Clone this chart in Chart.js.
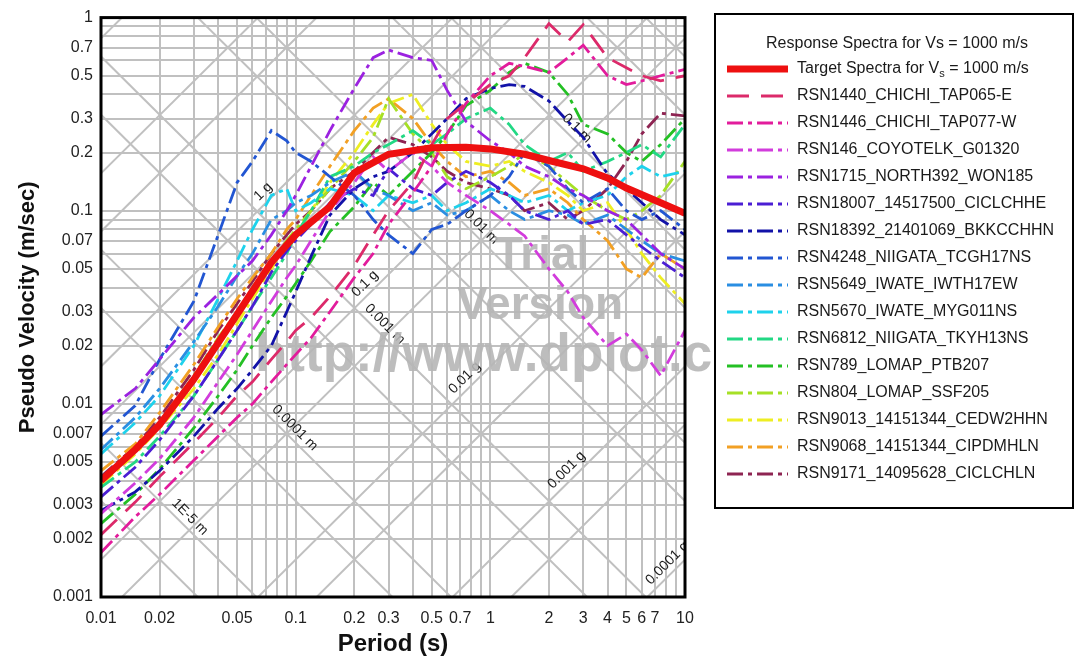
<!DOCTYPE html>
<html>
<head>
<meta charset="utf-8">
<script src="https://cdn.jsdelivr.net/npm/chart.js@4.4.0/dist/chart.umd.min.js"></script>
<style>
  html, body { margin: 0; padding: 0; background: #fff; }
  #wrap { width: 1074px; height: 662px; }
</style>
</head>
<body>
<div id="wrap"><canvas id="spectra" width="1074" height="662"></canvas></div>
<script>
// Pseudo-velocity response spectra, tripartite plot (damping grid for D and A)

const periods = [0.01, 0.015, 0.02, 0.03, 0.04, 0.05, 0.06, 0.075, 0.09, 0.1, 0.12, 0.15, 0.2, 0.25, 0.3,
                 0.4, 0.5, 0.6, 0.75, 1, 1.25, 1.5, 2, 2.5, 3, 4, 5, 6, 7.5, 10];

const targetPeriods = [0.01, 0.015, 0.02, 0.03, 0.05, 0.075, 0.1, 0.15, 0.2, 0.3, 0.5, 0.75, 1, 1.5, 2, 3, 4, 5, 7.5, 10];
const targetPSV = [0.004, 0.0058, 0.0078, 0.0134, 0.029, 0.054, 0.075, 0.105, 0.157, 0.196, 0.212, 0.213, 0.209, 0.196, 0.182, 0.165, 0.148, 0.131, 0.11, 0.097];

const recordNames = [
  'RSN1440_CHICHI_TAP065-E', 'RSN1446_CHICHI_TAP077-W', 'RSN146_COYOTELK_G01320', 'RSN1715_NORTH392_WON185',
  'RSN18007_14517500_CICLCHHE', 'RSN18392_21401069_BKKCCHHN', 'RSN4248_NIIGATA_TCGH17NS', 'RSN5649_IWATE_IWTH17EW',
  'RSN5670_IWATE_MYG011NS', 'RSN6812_NIIGATA_TKYH13NS', 'RSN789_LOMAP_PTB207', 'RSN804_LOMAP_SSF205',
  'RSN9013_14151344_CEDW2HHN', 'RSN9068_14151344_CIPDMHLN', 'RSN9171_14095628_CICLCHLN'
];

const recordColors = ['#dc2a6a', '#e21c9c', '#d23cdc', '#9b22e0', '#4b1ed4', '#1212a8', '#2256d2', '#2a8ee2',
                      '#1ed2ec', '#22d884', '#24c024', '#a6e026', '#eeee22', '#f2a024', '#8e2452'];

const psv1440  = [0.0021, 0.0031, 0.0042, 0.0063, 0.0085, 0.011, 0.013, 0.017, 0.021, 0.024, 0.028, 0.036, 0.052, 0.075, 0.1, 0.14, 0.22, 0.3, 0.36, 0.45, 0.5, 0.62, 0.93, 0.75, 0.92, 0.62, 0.55, 0.5, 0.47, 0.5];
const psv1446  = [0.0017, 0.0026, 0.0034, 0.0051, 0.0068, 0.0085, 0.01, 0.013, 0.016, 0.018, 0.022, 0.03, 0.045, 0.06, 0.085, 0.124, 0.17, 0.25, 0.36, 0.5, 0.58, 0.56, 0.52, 0.62, 0.72, 0.5, 0.45, 0.47, 0.5, 0.54];
const psv146   = [0.0027, 0.0039, 0.0052, 0.0085, 0.013, 0.018, 0.024, 0.034, 0.045, 0.052, 0.07, 0.1, 0.14, 0.19, 0.16, 0.2, 0.17, 0.14, 0.12, 0.1, 0.085, 0.074, 0.05, 0.038, 0.028, 0.02, 0.023, 0.019, 0.014, 0.024];
const psv1715  = [0.0088, 0.012, 0.017, 0.028, 0.037, 0.046, 0.055, 0.075, 0.1, 0.12, 0.17, 0.26, 0.43, 0.62, 0.68, 0.62, 0.6, 0.42, 0.29, 0.23, 0.2, 0.17, 0.15, 0.13, 0.12, 0.1, 0.09, 0.075, 0.06, 0.05];
const psv18007 = [0.0033, 0.0047, 0.0065, 0.011, 0.017, 0.024, 0.032, 0.048, 0.062, 0.07, 0.085, 0.11, 0.13, 0.12, 0.165, 0.13, 0.12, 0.14, 0.16, 0.14, 0.12, 0.1, 0.09, 0.1, 0.085, 0.09, 0.075, 0.065, 0.055, 0.045];
const psv18392 = [0.0028, 0.0035, 0.0045, 0.0068, 0.0095, 0.012, 0.015, 0.02, 0.03, 0.038, 0.058, 0.095, 0.13, 0.15, 0.16, 0.2, 0.25, 0.3, 0.38, 0.43, 0.45, 0.44, 0.37, 0.29, 0.24, 0.155, 0.13, 0.11, 0.09, 0.075];
const psv4248  = [0.0068, 0.0098, 0.017, 0.034, 0.075, 0.14, 0.18, 0.26, 0.23, 0.2, 0.18, 0.15, 0.12, 0.09, 0.075, 0.06, 0.08, 0.085, 0.1, 0.12, 0.15, 0.2, 0.17, 0.13, 0.11, 0.13, 0.1, 0.09, 0.1, 0.08];
const psv5649  = [0.0058, 0.0085, 0.012, 0.021, 0.032, 0.046, 0.06, 0.09, 0.1, 0.11, 0.12, 0.14, 0.16, 0.13, 0.12, 0.1, 0.11, 0.095, 0.1, 0.12, 0.1, 0.09, 0.1, 0.095, 0.085, 0.095, 0.08, 0.07, 0.06, 0.055];
const psv5670  = [0.0055, 0.008, 0.011, 0.02, 0.035, 0.055, 0.08, 0.12, 0.13, 0.1, 0.11, 0.13, 0.12, 0.1, 0.12, 0.11, 0.12, 0.1, 0.11, 0.13, 0.12, 0.11, 0.12, 0.1, 0.11, 0.12, 0.15, 0.17, 0.15, 0.16];
const psv6812  = [0.0037, 0.005, 0.0068, 0.011, 0.017, 0.024, 0.032, 0.045, 0.06, 0.075, 0.1, 0.15, 0.17, 0.2, 0.22, 0.26, 0.22, 0.25, 0.3, 0.34, 0.28, 0.22, 0.18, 0.2, 0.16, 0.18, 0.2, 0.22, 0.19, 0.28];
const psv789   = [0.0024, 0.0034, 0.0046, 0.0075, 0.011, 0.015, 0.02, 0.028, 0.036, 0.042, 0.055, 0.078, 0.105, 0.14, 0.12, 0.16, 0.2, 0.25, 0.35, 0.42, 0.52, 0.58, 0.52, 0.4, 0.28, 0.25, 0.2, 0.18, 0.22, 0.3];
const psv804   = [0.004, 0.0058, 0.008, 0.014, 0.022, 0.03, 0.04, 0.055, 0.07, 0.08, 0.1, 0.13, 0.18, 0.24, 0.38, 0.25, 0.2, 0.15, 0.13, 0.15, 0.17, 0.2, 0.17, 0.14, 0.12, 0.1, 0.09, 0.1, 0.12, 0.18];
const psv9013  = [0.0038, 0.0055, 0.0075, 0.012, 0.018, 0.026, 0.035, 0.05, 0.065, 0.075, 0.1, 0.14, 0.2, 0.28, 0.36, 0.4, 0.28, 0.22, 0.18, 0.17, 0.18, 0.16, 0.14, 0.12, 0.1, 0.11, 0.08, 0.06, 0.045, 0.033];
const psv9068  = [0.0045, 0.0062, 0.009, 0.016, 0.025, 0.035, 0.045, 0.06, 0.08, 0.09, 0.12, 0.17, 0.26, 0.34, 0.38, 0.3, 0.22, 0.18, 0.15, 0.16, 0.14, 0.12, 0.13, 0.11, 0.09, 0.07, 0.05, 0.045, 0.06, 0.05];
const psv9171  = [0.0042, 0.006, 0.0085, 0.015, 0.024, 0.033, 0.043, 0.06, 0.075, 0.085, 0.1, 0.13, 0.16, 0.2, 0.24, 0.22, 0.19, 0.16, 0.14, 0.13, 0.12, 0.1, 0.11, 0.09, 0.1, 0.13, 0.18, 0.25, 0.32, 0.31];

const recordPSV = [psv1440, psv1446, psv146, psv1715, psv18007, psv18392, psv4248, psv5649,
                   psv5670, psv6812, psv789, psv804, psv9013, psv9068, psv9171];

const xTickLabels = ['0.01', '0.02', '0.05', '0.1', '0.2', '0.3', '0.5', '0.7', '1', '2', '3', '4', '5', '6', '7', '10'];
const yTickLabels = ['0.001', '0.002', '0.003', '0.005', '0.007', '0.01', '0.02', '0.03', '0.05', '0.07',
                     '0.1', '0.2', '0.3', '0.5', '0.7', '1'];

// diagonal grid labels: value, text, period where the label sits
const dispLabels = [[1e-5, '1E-5 m', 0.0286], [1e-4, '0.0001 m', 0.099], [1e-3, '0.001 m', 0.287],
                    [1e-2, '0.01 m', 0.9], [1e-1, '0.1 m', 2.78]];
const accLabels = [[1, '1 g', 0.068], [0.1, '0.1 g', 0.227], [0.01, '0.01 g', 0.74],
                   [0.001, '0.001 g', 2.46], [0.0001, '0.0001 g', 8.1]];

const FONT = 'Arial, "Liberation Sans", sans-serif';
const GRID = '#c0c0c0';
const G = 9.81;

// 1..9 x 10^n inside [min, max]
function logGrid(min, max) {
  const out = [];
  for (let e = Math.floor(Math.log10(min)); e <= Math.ceil(Math.log10(max)); e++) {
    for (let m = 1; m <= 9; m++) {
      const v = +(m * Math.pow(10, e)).toPrecision(6);
      if (v >= min * 0.999 && v <= max * 1.001) out.push(v);
    }
  }
  return out;
}

function labelFor(list, value) {
  const hit = list.find(s => Math.abs(parseFloat(s) - value) < value * 1e-6);
  return hit === undefined ? '' : hit;
}

const tripartiteGrid = {
  id: 'tripartiteGrid',
  beforeDatasetsDraw(chart) {
    const { ctx, chartArea: a, scales: { x, y } } = chart;
    const t0 = x.min, t1 = x.max;
    const seg = (v0, v1) => {
      ctx.beginPath();
      ctx.moveTo(x.getPixelForValue(t0), y.getPixelForValue(v0));
      ctx.lineTo(x.getPixelForValue(t1), y.getPixelForValue(v1));
      ctx.stroke();
    };
    ctx.save();
    ctx.beginPath();
    ctx.rect(a.left, a.top, a.right - a.left, a.bottom - a.top);
    ctx.clip();
    ctx.strokeStyle = GRID;
    ctx.lineWidth = 2;
    for (let e = -8; e <= 2; e++) {
      for (const m of [1, 5]) {
        const d = m * Math.pow(10, e);
        seg(2 * Math.PI * d / t0, 2 * Math.PI * d / t1);           // constant displacement (m)
        seg(d * G * t0 / (2 * Math.PI), d * G * t1 / (2 * Math.PI)); // constant acceleration (g)
      }
    }
    ctx.fillStyle = '#1a1a1a';
    ctx.font = '14px ' + FONT;
    ctx.textAlign = 'center';
    ctx.textBaseline = 'middle';
    const put = (t, v, text, rot) => {
      ctx.save();
      ctx.translate(x.getPixelForValue(t), y.getPixelForValue(v) - 14);
      ctx.rotate(rot);
      ctx.fillText(text, 0, 0);
      ctx.restore();
    };
    dispLabels.forEach(([d, text, t]) => put(t, 2 * Math.PI * d / t, text, Math.PI / 4));
    accLabels.forEach(([g, text, t]) => put(t, g * G * t / (2 * Math.PI), text, -Math.PI / 4));
    ctx.restore();

    // trial watermark
    ctx.save();
    ctx.fillStyle = 'rgba(182,182,182,0.9)';
    ctx.textBaseline = 'middle';
    ctx.textAlign = 'center';
    ctx.font = 'bold 46px ' + FONT;
    ctx.fillText('Trial', 542, 256);
    ctx.fillText('Version', 540, 306);
    ctx.textAlign = 'left';
    ctx.font = 'bold 53px ' + FONT;
    ctx.fillText('http://www.dplot.com', 255, 356);
    ctx.restore();
  },
  afterDatasetsDraw(chart) {
    const { ctx, chartArea: a } = chart;
    ctx.save();
    ctx.strokeStyle = '#000';
    ctx.lineWidth = 3;
    ctx.strokeRect(a.left, a.top, a.right - a.left, a.bottom - a.top);
    ctx.restore();
  }
};

const legendBox = {
  id: 'legendBox',
  afterDraw(chart) {
    const ctx = chart.ctx;
    const left = 715, top = 14, w = 358, h = 494;
    ctx.save();
    ctx.fillStyle = '#fff';
    ctx.fillRect(left, top, w, h);
    ctx.strokeStyle = '#000';
    ctx.lineWidth = 2;
    ctx.strokeRect(left, top, w, h);

    ctx.fillStyle = '#1a1a1a';
    ctx.font = '16px ' + FONT;
    ctx.textBaseline = 'middle';
    ctx.textAlign = 'center';
    ctx.fillText('Response Spectra for Vs = 1000 m/s', 897, 44);
    ctx.textAlign = 'left';

    chart.data.datasets.forEach((ds, i) => {
      const yy = 69 + 27 * i;
      ctx.save();
      ctx.strokeStyle = ds.borderColor;
      ctx.lineWidth = i === 0 ? 7 : 2.8;
      ctx.setLineDash(ds.borderDash || []);
      ctx.beginPath();
      ctx.moveTo(727, yy);
      ctx.lineTo(788, yy);
      ctx.stroke();
      ctx.restore();
      if (i === 0) {
        // subscript s in V_s
        let xx = 797;
        ctx.font = '16px ' + FONT;
        ctx.fillText('Target Spectra for V', xx, yy);
        xx += ctx.measureText('Target Spectra for V').width;
        ctx.font = '11px ' + FONT;
        ctx.fillText('s', xx, yy + 5);
        xx += ctx.measureText('s').width;
        ctx.font = '16px ' + FONT;
        ctx.fillText(' = 1000 m/s', xx, yy);
      } else {
        ctx.fillText(ds.label, 797, yy);
      }
    });
    ctx.restore();
  }
};

const datasets = [{
  label: 'Target Spectra for Vs = 1000 m/s',
  data: targetPeriods.map((t, i) => ({ x: t, y: targetPSV[i] })),
  borderColor: '#ee1010',
  borderWidth: 7,
  pointRadius: 0,
  clip: 0
}].concat(recordNames.map((name, k) => ({
  label: name,
  data: periods.map((t, i) => ({ x: t, y: recordPSV[k][i] })),
  borderColor: recordColors[k],
  borderWidth: 2.8,
  borderDash: k === 0 ? [22, 12] : [16, 5, 4, 5],
  pointRadius: 0,
  clip: 0
})));

new Chart(document.getElementById('spectra'), {
  type: 'line',
  data: { datasets },
  options: {
    responsive: false,
    animation: false,
    events: [],
    layout: { padding: { top: 14, right: 389, left: 0, bottom: 0 } },
    plugins: { legend: { display: false }, tooltip: { enabled: false } },
    scales: {
      x: {
        type: 'logarithmic',
        min: 0.01,
        max: 10,
        afterBuildTicks: s => { s.ticks = logGrid(0.01, 10).map(v => ({ value: v })); },
        afterFit: s => { s.height = 65; },
        grid: { color: GRID, lineWidth: 2, drawTicks: false },
        border: { display: false },
        ticks: {
          autoSkip: false, maxRotation: 0, padding: 12,
          color: '#222', font: { family: FONT, size: 16 },
          callback: v => labelFor(xTickLabels, v)
        },
        title: {
          display: true, text: 'Period (s)', color: '#111',
          font: { family: FONT, size: 24, weight: 'bold' },
          padding: { top: 0, bottom: 3 }
        }
      },
      y: {
        type: 'logarithmic',
        min: 0.001,
        max: 1,
        afterBuildTicks: s => { s.ticks = logGrid(0.001, 1).map(v => ({ value: v })); },
        afterFit: s => { s.width = 101; },
        grid: { color: GRID, lineWidth: 2, drawTicks: false },
        border: { display: false },
        ticks: {
          autoSkip: false, padding: 8,
          color: '#222', font: { family: FONT, size: 16 },
          callback: v => labelFor(yTickLabels, v)
        },
        title: {
          display: true, text: 'Pseudo Velocity (m/sec)', color: '#111',
          font: { family: FONT, size: 22, weight: 'bold' },
          padding: { top: 15, bottom: 0 }
        }
      }
    }
  },
  plugins: [tripartiteGrid, legendBox]
});
</script>
</body>
</html>
